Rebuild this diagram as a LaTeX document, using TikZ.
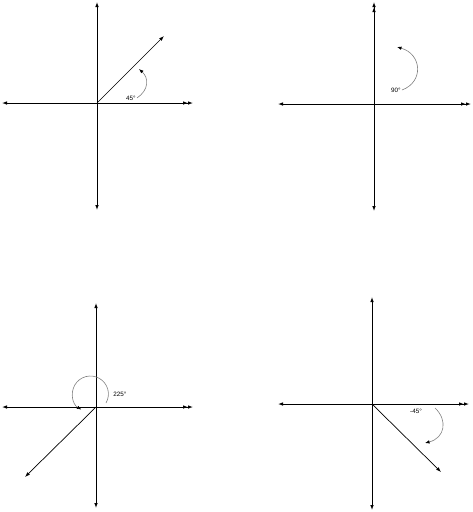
\documentclass[tikz,border=0pt]{standalone}
\usepackage{fontspec}
\setmainfont{Liberation Sans}
\usetikzlibrary{arrows.meta}
\tikzset{
  axis/.style={line width=0.9pt, {Latex[length=5pt,width=3.6pt]}-{Latex[length=5pt,width=3.6pt]Latex[length=5pt,width=3.6pt]}},
  axisv/.style={line width=0.9pt, {Latex[length=5pt,width=3.6pt]}-{Latex[length=5pt,width=3.6pt]}},
  ray/.style={line width=0.7pt, -{Latex[length=5pt,width=3.6pt]}},
  turn/.style={gray, line width=0.6pt, -{Latex[length=4.5pt,width=3.4pt,black]}},
  deg/.style={font=\fontsize{6.3}{7}\selectfont, inner sep=1pt}
}

\begin{document}
\begin{tikzpicture}[x=1pt,y=-1pt]
    \useasboundingbox (0,0) rectangle (473,512);
    % 45 Grad
    \coordinate (oA) at (97,103);
    \coordinate (lA) at (2,103);  \coordinate (rA) at (193,103);
    \coordinate (tA) at (97,2);   \coordinate (bA) at (97,210);
    \coordinate (pA) at (164,36);
    \draw[axis] (lA) -- (rA);
    \draw[axisv] (bA) -- (tA);
    \draw[ray] (oA) -- (pA);
    \node[deg] (dA) at (131,98) {45°};
    \draw[turn] (dA.east) .. controls (149,90) and (149,78) .. (139,69);
    % 90 Grad
    \coordinate (oB) at (374,104);
    \coordinate (lB) at (278,104); \coordinate (rB) at (471,104);
    \coordinate (tB) at (374,2);   \coordinate (bB) at (374,211);
    \draw[axis] (lB) -- (rB);
    \draw[axis] (bB) -- (tB);
    \node[deg] (dB) at (396,90) {90°};
    \draw[turn] (dB.east) .. controls (424,82) and (422,54) .. (397,47);
    % 225 Grad
    \coordinate (oC) at (96,407);
    \coordinate (lC) at (2,407);  \coordinate (rC) at (193,407);
    \coordinate (tC) at (96,303); \coordinate (bC) at (96,508);
    \coordinate (pC) at (25,477);
    \draw[axis] (lC) -- (rC);
    \draw[axisv] (bC) -- (tC);
    \draw[ray] (oC) -- (pC);
    \node[deg] (dC) at (120,394) {225°};
    \draw[turn] (106,403) arc[start angle=30, end angle=-240, radius=18];
    % -45 Grad
    \coordinate (oD) at (372,404);
    \coordinate (lD) at (278,404); \coordinate (rD) at (469,404);
    \coordinate (tD) at (372,297); \coordinate (bD) at (372,510);
    \coordinate (pD) at (441,472);
    \draw[axis] (lD) -- (rD);
    \draw[axisv] (bD) -- (tD);
    \draw[ray] (oD) -- (pD);
    \node[deg] (dD) at (416,411) {-45°};
    \draw[turn] (435,408) .. controls (448,420) and (445,438) .. (425,443);
\end{tikzpicture}
\end{document}
